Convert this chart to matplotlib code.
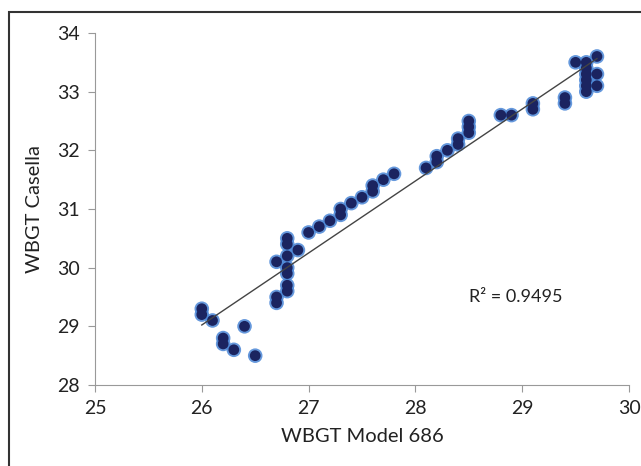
import matplotlib
matplotlib.use("Agg")
import matplotlib.pyplot as plt
from matplotlib.patches import Rectangle
import numpy as np

plt.rcParams['font.family'] = ['Lato', 'DejaVu Sans']

# WBGT Model 686 (x) vs WBGT Casella (y)
model_686 = [26.0, 26.0, 26.1, 26.2, 26.2, 26.3, 26.4, 26.5,
             26.7, 26.7, 26.7,
             26.8, 26.8, 26.8, 26.8, 26.8, 26.8, 26.8,
             26.9, 27.0, 27.1, 27.2, 27.3, 27.3, 27.4, 27.5, 27.6, 27.6, 27.7, 27.8,
             28.1, 28.2, 28.2, 28.3, 28.4, 28.4, 28.5, 28.5, 28.5,
             28.8, 28.9, 29.1, 29.1, 29.4, 29.4,
             29.5, 29.6, 29.6, 29.6, 29.6, 29.6, 29.6,
             29.7, 29.7, 29.7]
casella = [29.3, 29.2, 29.1, 28.8, 28.7, 28.6, 29.0, 28.5,
           30.1, 29.5, 29.4,
           30.5, 30.4, 30.2, 30.0, 29.9, 29.7, 29.6,
           30.3, 30.6, 30.7, 30.8, 30.9, 31.0, 31.1, 31.2, 31.3, 31.4, 31.5, 31.6,
           31.7, 31.8, 31.9, 32.0, 32.1, 32.2, 32.3, 32.4, 32.5,
           32.6, 32.6, 32.7, 32.8, 32.8, 32.9,
           33.5, 33.0, 33.1, 33.2, 33.3, 33.4, 33.5,
           33.6, 33.3, 33.1]
r2_label = "R² = 0.9495"

x = np.array(model_686)
y = np.array(casella)
slope, intercept = np.polyfit(x, y, 1)

fig = plt.figure(figsize=(6.41, 4.66), dpi=100)
fig.patches.append(Rectangle((9 / 641, -0.1), 1.1, 1.1 - 12 / 466,
                             transform=fig.transFigure, fill=False,
                             edgecolor='#333333', linewidth=1.5))
ax = fig.add_axes([95 / 641, 81 / 466, 534 / 641, 352 / 466])

# soft blue halo under a dark navy dot
ax.scatter(x, y, s=110, facecolor='#4a86d6', edgecolor='none', alpha=0.85, zorder=3)
ax.scatter(x, y, s=60, facecolor='#1b2460', edgecolor='none', zorder=3)
xf = np.array([x.min(), x.max()])
ax.plot(xf, slope * xf + intercept, color='#444444', linewidth=1, zorder=4)

ax.text(28.5, 29.5, r2_label, fontsize=13, color='#222222', va='center')

ax.set_xlim(25, 30)
ax.set_ylim(28, 34)
ax.set_xticks(range(25, 31))
ax.set_yticks(range(28, 35))
ax.set_xlabel("WBGT Model 686", fontsize=14.5, color='#222222', labelpad=8)
ax.set_ylabel("WBGT Casella", fontsize=14.5, color='#222222', labelpad=10)
for s in ['top', 'right']:
    ax.spines[s].set_visible(False)
for s in ['left', 'bottom']:
    ax.spines[s].set_color('#999999')
ax.tick_params(colors='#999999', labelcolor='#222222', labelsize=14, length=5, pad=6)

fig.savefig("out.png", dpi=100)
